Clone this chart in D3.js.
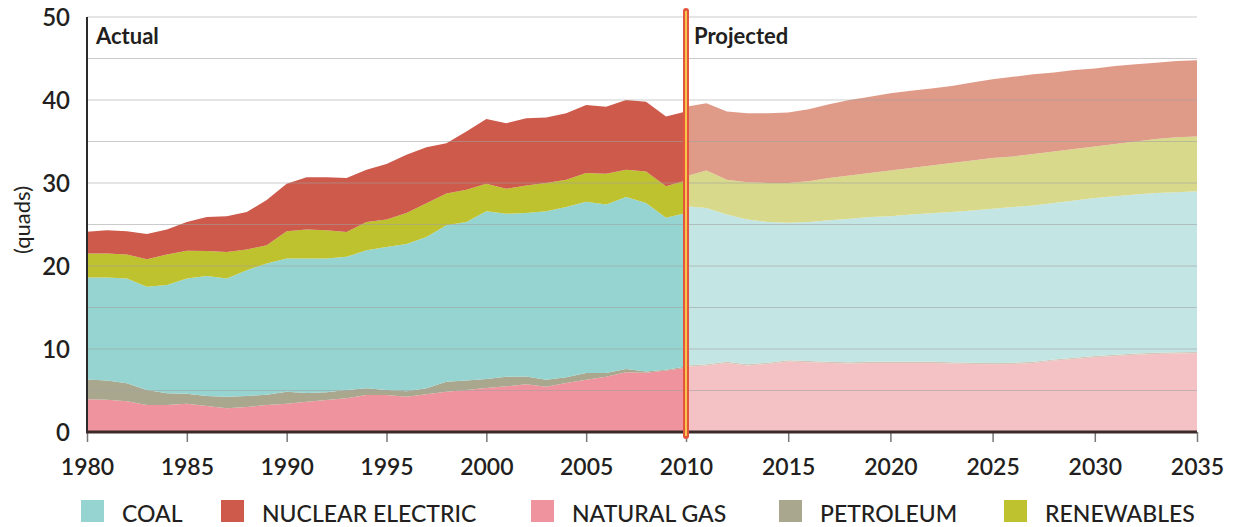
<!DOCTYPE html>
<html>
<head>
<meta charset="utf-8">
<script src="https://cdn.jsdelivr.net/npm/d3@7"></script>
<style>
  body { margin: 0; background: #fff; }
  text { font-family: Lato, "Open Sans", sans-serif; fill: #231f20; }
</style>
</head>
<body>
<div id="chart"></div>
<script>
// ---- data (quads) ----
var actualYears = d3.range(1980, 2011);
var actualGas = [3.94,3.9,3.7,3.25,3.25,3.4,3.13,2.85,3.0,3.25,3.4,3.65,3.85,4.06,4.46,4.46,4.26,4.56,4.86,5.06,5.3,5.5,5.75,5.46,5.9,6.3,6.66,7.2,7.15,7.4,7.75];
var actualPetroleum = [2.4,2.3,2.16,1.81,1.41,1.2,1.21,1.41,1.34,1.25,1.46,1.05,0.95,1.0,0.8,0.6,0.64,0.7,1.2,1.14,1.1,1.16,0.95,0.84,0.7,0.8,0.44,0.4,0.15,0.1,0.15];
var actualCoal = [12.26,12.4,12.64,12.44,13.04,13.9,14.46,14.24,15.16,15.8,16.04,16.2,16.1,16.04,16.64,17.24,17.75,18.24,18.84,19.1,20.2,19.64,19.7,20.3,20.5,20.65,20.3,20.7,20.3,18.3,18.5];
var actualRenewables = [2.9,2.9,2.9,3.3,3.7,3.35,3.0,3.2,2.5,2.2,3.3,3.5,3.4,3.0,3.4,3.3,3.75,4.05,3.85,3.9,3.3,3.0,3.3,3.4,3.3,3.45,3.7,3.3,3.8,3.8,3.9];
var actualNuclear = [2.63,2.8,2.8,3.06,3.0,3.45,4.1,4.3,4.5,5.45,5.7,6.3,6.4,6.5,6.3,6.7,7.0,6.75,6.05,7.0,7.8,7.9,8.1,7.9,8.0,8.2,8.1,8.4,8.4,8.4,8.3];

var projYears = d3.range(2010, 2036);
var projGas = [7.85,8.0,8.3,8.0,8.2,8.5,8.4,8.3,8.25,8.3,8.3,8.3,8.3,8.25,8.2,8.15,8.2,8.3,8.6,8.8,9.0,9.15,9.3,9.4,9.45,9.5];
var projPetroleum = [0.15,0.15,0.15,0.15,0.15,0.15,0.15,0.15,0.15,0.15,0.15,0.15,0.15,0.15,0.15,0.15,0.15,0.15,0.15,0.15,0.15,0.15,0.15,0.15,0.15,0.15];
var projCoal = [19.2,18.85,17.75,17.45,16.95,16.55,16.75,17.05,17.3,17.45,17.55,17.75,17.9,18.1,18.35,18.6,18.75,18.85,18.85,18.95,19.05,19.1,19.15,19.25,19.3,19.35];
var projRenewables = [3.6,4.5,4.2,4.5,4.7,4.8,4.9,5.1,5.2,5.3,5.5,5.6,5.75,5.9,6.0,6.1,6.1,6.2,6.2,6.2,6.2,6.3,6.4,6.5,6.6,6.6];
var projNuclear = [8.4,8.1,8.2,8.3,8.4,8.5,8.7,8.9,9.1,9.2,9.3,9.3,9.3,9.3,9.4,9.5,9.6,9.6,9.5,9.5,9.4,9.4,9.3,9.2,9.2,9.2];

var keys = ["gas", "petroleum", "coal", "renewables", "nuclear"];
var actualColors = {gas: "#ef939e", petroleum: "#a9a88e", coal: "#96d4d1", renewables: "#bec22e", nuclear: "#cd5a4b"};
var projColors = {gas: "#f4c1c4", petroleum: "#d3c6b6", coal: "#c3e5e3", renewables: "#d8d98b", nuclear: "#e09b88"};

var legendLabels = ["COAL", "NUCLEAR ELECTRIC", "NATURAL GAS", "PETROLEUM", "RENEWABLES"];
var legendKeys = ["coal", "nuclear", "gas", "petroleum", "renewables"];
var xTicks = d3.range(1980, 2036, 5);
var yLabels = [0, 10, 20, 30, 40, 50];
var gridValues = d3.range(0, 51, 5);

var width = 1243, height = 527;

function rows(years, gas, pet, coal, ren, nuc) {
    return years.map(function(yr, i) {
        return {year: yr, gas: gas[i], petroleum: pet[i], coal: coal[i], renewables: ren[i], nuclear: nuc[i]};
    });
}
var actual = rows(actualYears, actualGas, actualPetroleum, actualCoal, actualRenewables, actualNuclear);
var projected = rows(projYears, projGas, projPetroleum, projCoal, projRenewables, projNuclear);

// scales
var x = d3.scaleLinear().domain([1980, 2010, 2035]).range([87, 686, 1197]);
var y = d3.scaleLinear().domain([0, 50]).range([432, 17]);

var svg = d3.select("#chart").append("svg")
    .attr("width", width)
    .attr("height", height);

var stack = d3.stack().keys(keys);
var area = d3.area()
    .x(function(d) { return x(d.data.year); })
    .y0(function(d) { return y(d[0]); })
    .y1(function(d) { return y(d[1]); });

// areas
svg.append("g").selectAll("path")
    .data(stack(actual))
    .enter().append("path")
    .attr("d", area)
    .attr("fill", function(d) { return actualColors[d.key]; });

svg.append("g").selectAll("path")
    .data(stack(projected))
    .enter().append("path")
    .attr("d", area)
    .attr("fill", function(d) { return projColors[d.key]; });

// gridlines on top
svg.append("g").selectAll("line")
    .data(gridValues)
    .enter().append("line")
    .attr("x1", x(1980))
    .attr("x2", x(2035))
    .attr("y1", function(d) { return y(d); })
    .attr("y2", function(d) { return y(d); })
    .attr("stroke", "#a0a0a0")
    .attr("stroke-opacity", 0.55)
    .attr("stroke-width", 1.2);

// y axis
svg.append("line")
    .attr("x1", x(1980)).attr("x2", x(1980))
    .attr("y1", y(50)).attr("y2", y(0))
    .attr("stroke", "#2b2b2b")
    .attr("stroke-width", 2);

svg.append("g").selectAll("text")
    .data(yLabels)
    .enter().append("text")
    .attr("x", 70)
    .attr("y", function(d) { return y(d) + 9; })
    .attr("text-anchor", "end")
    .style("font-size", "24px")
    .style("font-weight", 600)
    .text(function(d) { return d; });

svg.append("text")
    .attr("transform", "translate(30,220) rotate(-90)")
    .attr("text-anchor", "middle")
    .style("font-size", "22px")
    .text("(quads)");

// x axis
var xAxis = svg.append("g")
    .attr("transform", "translate(0," + y(0) + ")")
    .call(d3.axisBottom(x).tickValues(xTicks).tickFormat(d3.format("d")).tickSize(10).tickPadding(17));
xAxis.select(".domain").remove();
xAxis.selectAll(".tick line").attr("stroke", "#777").attr("stroke-width", 1.5);
xAxis.selectAll(".tick text")
    .style("font-family", "Lato, 'Open Sans', sans-serif")
    .style("font-size", "23px")
    .style("font-weight", 600)
    .attr("fill", "#231f20");

svg.append("line")
    .attr("x1", x(1980) - 1).attr("x2", x(2035))
    .attr("y1", y(0)).attr("y2", y(0))
    .attr("stroke", "#3b2a2a")
    .attr("stroke-width", 3);

// actual / projected divider
svg.append("line")
    .attr("x1", x(2010)).attr("x2", x(2010))
    .attr("y1", 11).attr("y2", 436)
    .attr("stroke", "#e4553e")
    .attr("stroke-width", 6)
    .attr("stroke-linecap", "round");
svg.append("line")
    .attr("x1", x(2010)).attr("x2", x(2010))
    .attr("y1", 11).attr("y2", 436)
    .attr("stroke", "#f6c54a")
    .attr("stroke-width", 2);

svg.append("text")
    .attr("x", 96).attr("y", 44)
    .style("font-size", "22px")
    .style("font-weight", 700)
    .text("Actual");
svg.append("text")
    .attr("x", 694).attr("y", 44)
    .style("font-size", "22px")
    .style("font-weight", 700)
    .text("Projected");

// legend
var legendX = [122, 262, 572, 820, 1045];
var legend = svg.append("g").selectAll("g")
    .data(legendKeys)
    .enter().append("g")
    .attr("transform", function(d, i) { return "translate(" + legendX[i] + ",0)"; });
legend.append("rect")
    .attr("x", -41).attr("y", 500)
    .attr("width", 23).attr("height", 22)
    .attr("fill", function(d) { return actualColors[d]; });
legend.append("text")
    .attr("x", 0).attr("y", 522)
    .style("font-size", "23px")
    .style("font-weight", 500)
    .text(function(d, i) { return legendLabels[i]; });
</script>
</body>
</html>
